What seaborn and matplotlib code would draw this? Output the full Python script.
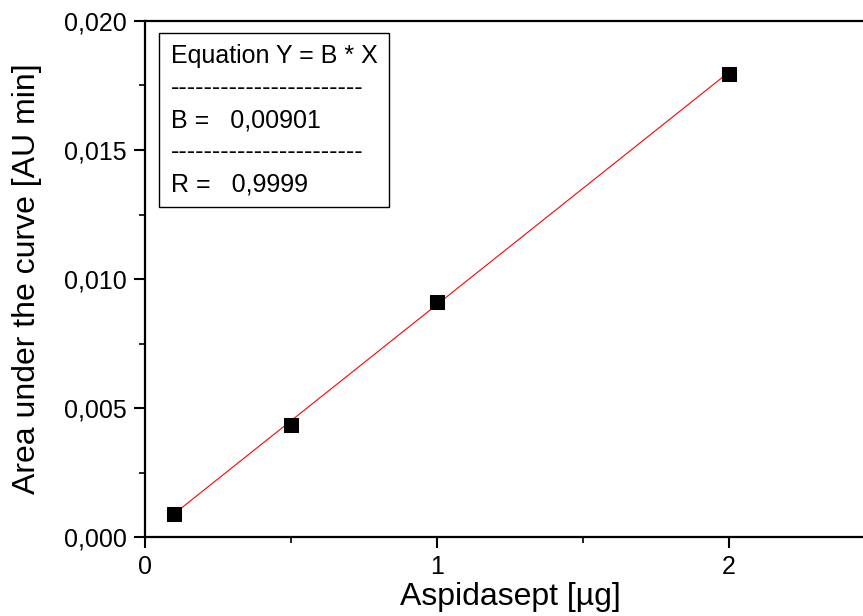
import numpy as np
import matplotlib
matplotlib.use("Agg")
import matplotlib.pyplot as plt
import seaborn as sns
from matplotlib.ticker import FuncFormatter, MultipleLocator

# calibration data
amount_ug = [0.1, 0.5, 1.0, 2.0]
area = [0.00090, 0.00433, 0.00909, 0.01793]
slope_b = 0.00901
r_value = "0,9999"
fit_x = np.array([0.1, 2.0])

sns.set_style("ticks")
plt.rcParams['font.family'] = ['Liberation Sans', 'DejaVu Sans']
plt.rcParams['text.color'] = 'black'
plt.rcParams['axes.labelcolor'] = 'black'

fig = plt.figure(figsize=(8.63, 6.16), dpi=100)
W, H = 863, 616
# axes runs past the right edge of the picture (cropped like the original)
ax = fig.add_axes([145 / W, (H - 537) / H, (875 - 145) / W, (537 - 21) / H])

sns.lineplot(x=fit_x, y=slope_b * fit_x, color="red", lw=0.8, ax=ax)
sns.scatterplot(x=amount_ug, y=area, marker="s", s=90, color="black",
                edgecolor="black", ax=ax, zorder=3)

ax.set_xlim(0, 2.5)
ax.set_ylim(0, 0.020)
ax.xaxis.set_major_locator(MultipleLocator(1))
ax.xaxis.set_minor_locator(MultipleLocator(0.5))
ax.yaxis.set_major_locator(MultipleLocator(0.005))
ax.yaxis.set_minor_locator(MultipleLocator(0.0025))
ax.xaxis.set_major_formatter(FuncFormatter(lambda v, p: f"{v:.0f}"))
ax.yaxis.set_major_formatter(FuncFormatter(lambda v, p: f"{v:.3f}".replace(".", ",")))

for s in ["left", "bottom", "top"]:
    ax.spines[s].set_linewidth(1.6)
    ax.spines[s].set_color("black")
ax.spines["right"].set_visible(False)
ax.tick_params(which="major", direction="out", length=8, width=1.5, labelsize=18, colors="black", pad=5)
ax.tick_params(which="minor", direction="out", length=4, width=1.2, colors="black")

ax.set_xlabel("Aspidasept [µg]", fontsize=23, labelpad=2, color="black")
ax.set_ylabel("Area under the curve [AU min]", fontsize=23, labelpad=16, color="black")

box_text = ("Equation Y = B * X\n"
            "-----------------------\n"
            f"B =   {str(slope_b).replace('.', ',')}\n"
            "-----------------------\n"
            f"R =   {r_value}")
ax.text(0.035, 0.955, box_text, transform=ax.transAxes, fontsize=18, color="black",
        va="top", ha="left", linespacing=1.42,
        bbox=dict(boxstyle="square,pad=0.45", facecolor="white", edgecolor="black", lw=1))

fig.savefig("out.png", dpi=100)
